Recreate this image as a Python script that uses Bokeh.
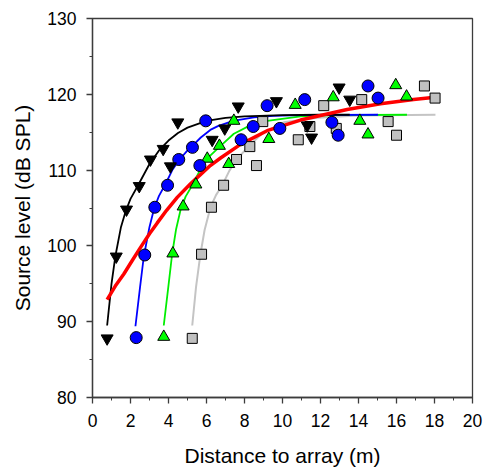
from bokeh.plotting import figure
from bokeh.models import FixedTicker
from bokeh.embed import file_html
from bokeh.resources import INLINE

# ---- measured points ----
black_x = [0.77, 1.25, 1.79, 2.46, 3.05, 3.72, 4.10, 4.49, 6.30, 6.96, 7.67, 9.68, 11.30, 11.53, 12.98, 13.54]
black_y = [87.8, 98.6, 104.8, 107.9, 111.4, 112.8, 110.5, 116.3, 114.0, 115.5, 118.4, 119.1, 115.9, 114.3, 120.9, 119.3]

blue_x = [2.30, 2.75, 3.28, 3.95, 4.54, 5.26, 5.65, 5.96, 7.82, 8.46, 9.19, 9.86, 11.17, 12.60, 12.93, 14.50, 15.03]
blue_y = [87.9, 98.8, 105.1, 108.0, 111.4, 113.0, 110.6, 116.5, 114.0, 115.75, 118.5, 115.5, 119.3, 116.3, 114.6, 121.1, 119.5]

green_x = [3.75, 4.23, 4.77, 5.44, 6.04, 6.68, 7.17, 7.44, 9.28, 10.67, 12.67, 14.07, 14.50, 15.96, 16.53]
green_y = [88.0, 99.0, 105.2, 108.1, 111.5, 113.2, 110.8, 116.5, 114.1, 118.6, 119.6, 116.5, 114.7, 121.2, 119.7]

gray_x = [5.25, 5.74, 6.26, 6.90, 7.58, 8.28, 8.63, 8.96, 10.83, 11.44, 12.17, 12.83, 14.17, 15.56, 16.00, 17.47, 18.03]
gray_y = [87.8, 98.9, 105.1, 108.0, 111.4, 113.1, 110.6, 116.4, 114.0, 115.75, 118.5, 115.5, 119.3, 116.4, 114.6, 121.1, 119.5]

# ---- fitted curves ----
black_fit_x = [0.77, 1.0, 1.2, 1.5, 1.75, 2.0, 2.4, 3.0, 3.5, 4.0, 4.5, 5.0, 6.0, 7.0, 8.0, 10.0, 12.0, 13.54]
black_fit_y = [89.5, 95.0, 98.6, 102.5, 104.6, 106.2, 108.0, 110.8, 112.6, 113.9, 114.9, 115.6, 116.5, 116.9, 117.1, 117.25, 117.3, 117.3]

blue_fit_x = [2.26, 2.5, 2.7, 3.0, 3.25, 3.5, 3.85, 4.2, 4.55, 5.0, 5.3, 5.7, 6.2, 6.6, 7.4, 8.5, 9.5, 11.0, 15.03]
blue_fit_y = [89.4, 94.5, 98.6, 102.5, 105.0, 106.6, 108.2, 110.0, 111.3, 112.6, 113.3, 114.3, 115.3, 115.8, 116.5, 116.95, 117.15, 117.25, 117.3]

green_fit_x = [3.75, 4.0, 4.19, 4.4, 4.63, 4.9, 5.25, 5.68, 6.07, 6.74, 7.44, 8.3, 9.2, 10.95, 12.7, 16.55]
green_fit_y = [89.5, 94.8, 98.9, 102.2, 104.7, 106.5, 108.0, 110.1, 111.6, 113.2, 114.8, 115.9, 116.5, 117.1, 117.25, 117.3]

gray_fit_x = [5.25, 5.45, 5.68, 5.9, 6.21, 6.5, 6.83, 7.2, 7.58, 8.28, 8.96, 10.07, 11.83, 14.0, 18.05]
gray_fit_y = [89.5, 94.6, 98.9, 102.1, 105.1, 106.7, 108.0, 109.9, 111.4, 113.3, 114.9, 116.3, 116.9, 117.2, 117.3]

red_fit_x = [0.77, 1.2, 1.65, 2.1, 2.53, 3.0, 3.4, 3.9, 4.46, 5.16, 5.68, 6.2, 6.74, 7.79, 9.19, 10.95, 11.65, 13.4, 15.16, 16.9, 18.03]
red_fit_y = [92.9, 94.7, 96.3, 98.1, 99.8, 101.6, 103.0, 104.7, 106.4, 108.2, 109.4, 110.6, 111.6, 113.4, 115.2, 116.6, 117.0, 118.0, 118.75, 119.3, 119.6]

x_ticks = [0, 2, 4, 6, 8, 10, 12, 14, 16, 18, 20]
y_ticks = [80, 90, 100, 110, 120, 130]

AX = "#3c3c3c"
FONT = "Liberation Sans"

p = figure(width=489, height=469, x_range=(0, 20), y_range=(80, 130),
           output_backend="svg", toolbar_location=None,
           min_border_left=92, min_border_right=17, min_border_top=18, min_border_bottom=72)
p.grid.visible = False
p.outline_line_color = AX
p.outline_line_width = 1.3
p.background_fill_color = "white"
p.border_fill_color = "white"

p.xaxis.ticker = FixedTicker(ticks=x_ticks, minor_ticks=list(range(0, 21)))
p.yaxis.ticker = FixedTicker(ticks=y_ticks, minor_ticks=list(range(80, 131, 5)))
for ax in (p.xaxis[0], p.yaxis[0]):
    ax.axis_line_color = AX
    ax.axis_line_width = 1.3
    ax.major_tick_line_color = AX
    ax.minor_tick_line_color = AX
    ax.major_tick_line_width = 1.3
    ax.minor_tick_line_width = 1.0
    ax.major_tick_out = 6
    ax.major_tick_in = 0
    ax.minor_tick_out = 3
    ax.minor_tick_in = 0
    ax.major_label_text_font = FONT
    ax.major_label_text_font_size = "17.5px"
    ax.major_label_text_color = "black"
    ax.axis_label_text_font = FONT
    ax.axis_label_text_font_size = "21px"
    ax.axis_label_text_font_style = "normal"
    ax.axis_label_text_color = "black"

p.xaxis.axis_label = "Distance to array (m)"
p.yaxis.axis_label = "Source level (dB SPL)"
p.xaxis.major_label_standoff = 10
p.xaxis.axis_label_standoff = 14
p.yaxis.major_label_standoff = 10
p.yaxis.axis_label_standoff = 10

# curves
p.line(gray_fit_x, gray_fit_y, line_color="#c4c4c4", line_width=2)
p.line(green_fit_x, green_fit_y, line_color="#00ee00", line_width=1.8)
p.line(blue_fit_x, blue_fit_y, line_color="#0000ff", line_width=1.8)
p.line(black_fit_x, black_fit_y, line_color="black", line_width=1.8)
p.line(red_fit_x, red_fit_y, line_color="#ff0000", line_width=3.5)

# points
p.scatter(gray_x, gray_y, marker="square", size=10, fill_color="#c0c0c0", line_color="black", line_width=1)
p.scatter(green_x, green_y, marker="triangle", size=12, fill_color="#00ff00", line_color="black", line_width=1)
p.scatter(blue_x, blue_y, marker="circle", size=12, fill_color="#0000ff", line_color="black", line_width=1)
p.scatter(black_x, black_y, marker="inverted_triangle", size=12, fill_color="black", line_color="black", line_width=1)

open("out.html", "w").write(file_html(p, INLINE))
